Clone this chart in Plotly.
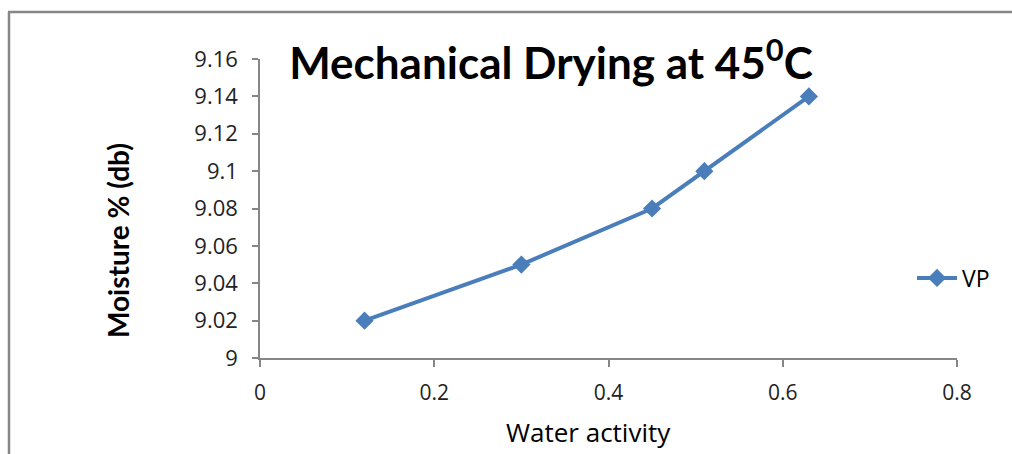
import plotly.graph_objects as go

water_activity = [0.12, 0.30, 0.45, 0.51, 0.63]
moisture_vp = [9.02, 9.05, 9.08, 9.10, 9.14]
series_name = "VP"
x_ticks = [0, 0.2, 0.4, 0.6, 0.8]
x_tick_labels = ["0", "0.2", "0.4", "0.6", "0.8"]
y_ticks = [9, 9.02, 9.04, 9.06, 9.08, 9.1, 9.12, 9.14, 9.16]
y_tick_labels = ["9", "9.02", "9.04", "9.06", "9.08", "9.1", "9.12", "9.14", "9.16"]

W, H = 1012, 454
L, R, T, B = 260, 55, 59, 96
pw, ph = W - L - R, H - T - B

def px(xp):
    return (xp - L) / pw

def py(yp):
    return (H - B - yp) / ph

blue = "#4A7EBB"
axis_col = "#868686"

fig = go.Figure()
fig.add_trace(go.Scatter(
    x=water_activity, y=moisture_vp, name=series_name,
    mode="lines+markers",
    line=dict(color=blue, width=4),
    marker=dict(symbol="diamond", size=14, color=blue),
))

fig.update_layout(
    width=W, height=H,
    margin=dict(l=L, r=R, t=T, b=B),
    paper_bgcolor="white", plot_bgcolor="white",
    showlegend=True,
    legend=dict(x=px(912), y=py(278), xanchor="left", yanchor="middle",
                itemwidth=40,
                font=dict(family="Open Sans", size=23, color="#000000"),
                bgcolor="rgba(0,0,0,0)"),
    title=dict(text="<b>Mechanical Drying at 45<sup>0</sup>C</b>",
               xref="container", x=551 / W, xanchor="center",
               yref="container", y=1 - 64 / H, yanchor="middle",
               font=dict(family="Lato", size=44, color="#000000")),
    xaxis=dict(range=[0, 0.8], tickvals=x_ticks, ticktext=x_tick_labels,
               showgrid=False, zeroline=False, showline=True,
               linecolor=axis_col, linewidth=1.5,
               ticks="outside", ticklen=7, tickcolor=axis_col, tickwidth=1.5,
               ticklabelstandoff=8,
               tickfont=dict(family="Open Sans", size=21, color="#222222")),
    yaxis=dict(range=[9, 9.16], tickvals=y_ticks, ticktext=y_tick_labels,
               showgrid=False, zeroline=False, showline=True,
               linecolor=axis_col, linewidth=1.5,
               ticks="outside", ticklen=6, tickcolor=axis_col, tickwidth=1.5,
               ticklabelstandoff=10,
               tickfont=dict(family="Open Sans", size=22, color="#222222")),
    annotations=[
        dict(text="Water activity", xref="paper", yref="paper",
             x=px(588), y=py(432), xanchor="center", yanchor="middle",
             showarrow=False,
             font=dict(family="Open Sans", size=26, color="#000000")),
        dict(text="<b>Moisture % (db)</b>", xref="paper", yref="paper",
             x=px(118), y=py(241), xanchor="center", yanchor="middle",
             textangle=-90, showarrow=False,
             font=dict(family="Lato", size=28, color="#000000")),
    ],
    shapes=[
        dict(type="line", xref="paper", yref="paper",
             x0=px(9), x1=px(9), y0=py(12), y1=py(470),
             line=dict(color=axis_col, width=2.5)),
        dict(type="line", xref="paper", yref="paper",
             x0=px(8), x1=px(1030), y0=py(12), y1=py(12),
             line=dict(color=axis_col, width=2.5)),
    ],
)

fig.write_html(
    "out.html",
    config={"displayModeBar": False},
    post_script="document.body.style.margin='0';document.body.style.overflow='hidden';",
)
